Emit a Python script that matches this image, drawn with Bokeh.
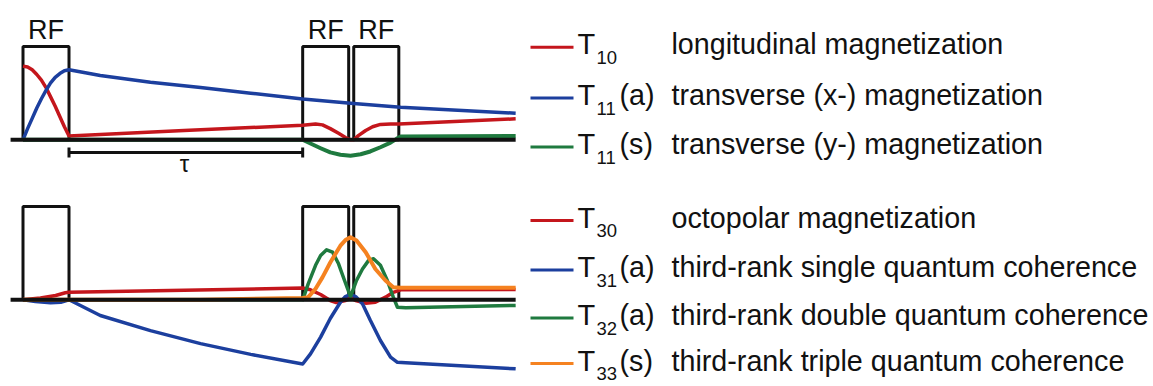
from bokeh.plotting import figure
from bokeh.layouts import column
from bokeh.models import Range1d, Label
from bokeh.embed import file_html
from bokeh.resources import INLINE

# ---- sequence timing (time in units of one RF pulse length) ----
pulse_start = [0.0, 6.08, 7.19]
pulse_end = [1.0, 7.08, 8.17]
pulse_height = 1.0
pulse_labels = ["RF", "RF", "RF"]
axis_start, axis_end = -0.27, 10.71
tau_start, tau_end = 1.0, 6.08
tau_label = "τ"

# ---- first-rank tensor amplitudes (upper diagram) ----
t10_t = [0.0, 0.1, 0.2, 0.3, 0.4, 0.5, 0.6, 0.7, 0.8, 0.9, 1.0, 3.5, 6.08,
         6.36, 6.51, 6.68, 6.86, 7.01, 7.12, 7.19, 7.29, 7.45, 7.60, 7.77, 7.99, 8.17, 10.71]
t10_y = [0.79, 0.78, 0.75, 0.70, 0.64, 0.56, 0.46, 0.36, 0.25, 0.14, 0.04, 0.10, 0.155,
         0.17, 0.16, 0.12, 0.07, 0.025, 0.0, 0.0, 0.045, 0.10, 0.14, 0.165, 0.17, 0.17, 0.225]

t11a_t = [0.0, 0.1, 0.2, 0.3, 0.4, 0.5, 0.6, 0.7, 0.8, 0.9, 1.0,
          1.68, 2.77, 3.86, 4.95, 6.08, 7.12, 8.21, 10.71]
t11a_y = [0.0, 0.12, 0.23, 0.34, 0.44, 0.53, 0.61, 0.67, 0.71, 0.74, 0.75,
          0.69, 0.617, 0.56, 0.50, 0.437, 0.392, 0.35, 0.285]

t11s_t = [0.0, 6.08, 6.25, 6.47, 6.68, 6.90, 7.12, 7.34, 7.55, 7.77, 7.99, 8.12, 8.21, 10.71]
t11s_y = [0.0, 0.0, -0.04, -0.09, -0.135, -0.16, -0.17, -0.155, -0.125, -0.08, -0.03, 0.01, 0.035, 0.04]

# ---- third-rank tensor amplitudes (lower diagram) ----
t30_t = [0.0, 0.38, 0.71, 0.92, 1.0, 6.08, 6.25, 6.47, 6.68, 6.81, 7.01, 7.12,
         7.23, 7.45, 7.66, 7.88, 8.05, 8.21, 10.71]
t30_y = [0.0, 0.02, 0.046, 0.075, 0.08, 0.126, 0.107, 0.057, -0.008, -0.03, -0.008, 0.025,
         -0.008, -0.036, -0.026, 0.028, 0.08, 0.107, 0.11]

t31_t = [0.0, 0.27, 0.60, 0.82, 1.0, 1.68, 2.77, 3.86, 4.95, 6.08, 6.25, 6.47, 6.68, 6.90,
         7.01, 7.12, 7.23, 7.38, 7.55, 7.77, 7.99, 8.14, 8.32, 10.71]
t31_y = [0.0, -0.018, -0.032, -0.026, 0.0, -0.168, -0.33, -0.47, -0.585, -0.688, -0.58, -0.40,
         -0.20, -0.026, 0.035, 0.057, 0.035, -0.043, -0.22, -0.436, -0.615, -0.67, -0.675, -0.74]

t32_t = [0.0, 6.08, 6.20, 6.36, 6.47, 6.60, 6.73, 6.86, 6.99, 7.12, 7.25, 7.38, 7.51,
         7.62, 7.77, 7.92, 8.05, 8.14, 8.32, 10.71]
t32_y = [0.0, 0.0, 0.17, 0.37, 0.475, 0.536, 0.51, 0.386, 0.207, 0.035, 0.207, 0.33, 0.42,
         0.44, 0.37, 0.207, 0.028, -0.08, -0.086, -0.06]

t33_t = [0.0, 1.0, 3.86, 6.08, 6.20, 6.36, 6.51, 6.68, 6.90, 7.01, 7.12, 7.25, 7.45,
         7.66, 7.88, 8.05, 8.21, 10.71]
t33_y = [0.0, 0.0, 0.0, 0.02, 0.028, 0.118, 0.24, 0.40, 0.58, 0.64, 0.67, 0.635, 0.51,
         0.33, 0.207, 0.135, 0.128, 0.128]

# ---- legend text ----
upper_ranks = ["10", "11", "11"]
upper_kinds = ["", "(a)", "(s)"]
upper_desc = ["longitudinal magnetization",
              "transverse (x-) magnetization",
              "transverse (y-) magnetization"]
lower_ranks = ["30", "31", "32", "33"]
lower_kinds = ["", "(a)", "(a)", "(s)"]
lower_desc = ["octopolar magnetization",
              "third-rank single quantum coherence",
              "third-rank double quantum coherence",
              "third-rank triple quantum coherence"]

RED, BLUE, GREEN, ORANGE = "#c4161c", "#1c3f9e", "#1f7a3f", "#f58220"
INK = "#111111"
FONT = "Liberation Sans"

# ---- canvas geometry ----
W, H = 1153, 193
PX_PER_T = 46.0          # pixels per pulse length
PX_PER_AMP = 93.3        # pixels per unit amplitude (pulse box height)
X0 = -22.5 / PX_PER_T
TEXT_LIFT = 8            # pixels: label baselines render this far below their anchor


def sx(px):
    return X0 + px / PX_PER_T


def sy(py, base_px):
    return (base_px - py) / PX_PER_AMP


def ty(py, base_px):
    return sy(py - TEXT_LIFT, base_px)


def make_panel(base_px):
    p = figure(width=W, height=H, output_backend="svg", toolbar_location=None,
               x_axis_type=None, y_axis_type=None, min_border=0,
               x_range=Range1d(X0, X0 + W / PX_PER_T),
               y_range=Range1d((base_px - H) / PX_PER_AMP, base_px / PX_PER_AMP))
    p.grid.visible = False
    p.outline_line_color = None
    p.background_fill_color = "white"
    p.border_fill_color = "white"
    p.quad(left=pulse_start, right=pulse_end, bottom=0, top=pulse_height,
           fill_color=None, line_color=INK, line_width=3)
    return p


def draw_axis(p):
    p.line([axis_start, axis_end], [0, 0], line_color=INK, line_width=4)


def text(p, x, y, s, size, align="left"):
    p.add_layout(Label(x=x, y=y, text=s, text_font=FONT, text_font_size=size,
                       text_color=INK, text_align=align, text_baseline="alphabetic"))


def add_legend(p, base_px, rows_py, colors, ranks, kinds, descs):
    for py, c, r, k, d in zip(rows_py, colors, ranks, kinds, descs):
        y = sy(py, base_px)
        p.line([sx(530), sx(573)], [y, y], line_color=c, line_width=3)
        text(p, sx(577), ty(py + 5, base_px), "T", "29px")
        text(p, sx(596), ty(py + 18, base_px), r, "18.5px")
        if k:
            text(p, sx(619), ty(py + 5, base_px), k, "28.7px")
        text(p, sx(671), ty(py + 5, base_px), d, "28.7px")


# ---- upper diagram ----
BASE_TOP = 139.3
top = make_panel(BASE_TOP)
for s, e, lab in zip(pulse_start, pulse_end, pulse_labels):
    text(top, (s + e) / 2, ty(37, BASE_TOP), lab, "27px", "center")
tau_y = sy(152, BASE_TOP)
top.line([tau_start, tau_end], [tau_y, tau_y], line_color=INK, line_width=3)
top.segment(x0=[tau_start, tau_end], x1=[tau_start, tau_end],
            y0=sy(147, BASE_TOP), y1=sy(157, BASE_TOP), line_color=INK, line_width=3)
text(top, sx(184), ty(171, BASE_TOP), tau_label, "24px", "center")

top.line(t10_t, t10_y, line_color=RED, line_width=3.5, line_join="round")
top.line(t11a_t, t11a_y, line_color=BLUE, line_width=3.5, line_join="round")
top.line(t11s_t, t11s_y, line_color=GREEN, line_width=4, line_join="round")
draw_axis(top)
add_legend(top, BASE_TOP, [46.7, 97.5, 146.5], [RED, BLUE, GREEN],
           upper_ranks, upper_kinds, upper_desc)

# ---- lower diagram ----
BASE_BOT = 299.3 - H
bot = make_panel(BASE_BOT)
bot.line(t30_t, t30_y, line_color=RED, line_width=3.5, line_join="round")
bot.line(t31_t, t31_y, line_color=BLUE, line_width=3.5, line_join="round")
bot.line(t32_t, t32_y, line_color=GREEN, line_width=3.5, line_join="round")
bot.line(t33_t, t33_y, line_color=ORANGE, line_width=4, line_join="round")
draw_axis(bot)
add_legend(bot, BASE_BOT, [27.0, 76.5, 124.5, 170.0], [RED, BLUE, GREEN, ORANGE],
           lower_ranks, lower_kinds, lower_desc)

layout = column(top, bot, spacing=0)
open("out.html", "w").write(file_html(layout, INLINE))
